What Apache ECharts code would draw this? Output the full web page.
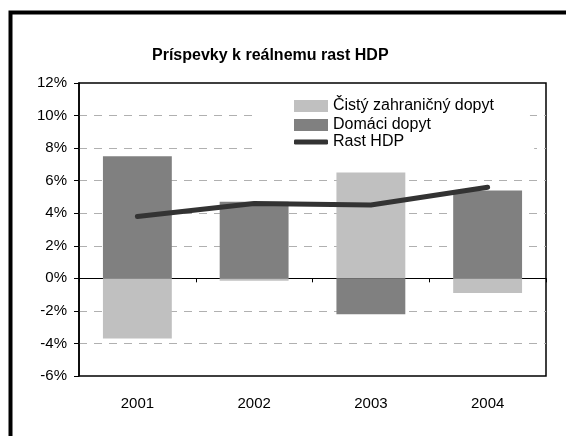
<!DOCTYPE html>
<html>
<head>
<meta charset="utf-8">
<script src="https://cdn.jsdelivr.net/npm/echarts@6/dist/echarts.min.js"></script>
<style>
  html, body { margin: 0; padding: 0; background: #fff; }
  #chart { width: 566px; height: 436px; }
</style>
</head>
<body>
<div id="chart"></div>
<script>
// Contributions to real GDP growth, 2001–2004 (stacked bars + growth line)
const years = ["2001", "2002", "2003", "2004"];
const netForeign = [-3.7, -0.15, 6.5, -0.9];   // Čistý zahraničný dopyt
const domestic = [7.5, 4.7, -2.2, 5.4];         // Domáci dopyt
const gdpGrowth = [3.8, 4.6, 4.5, 5.6];         // Rast HDP

const font = "'Liberation Sans', Arial, sans-serif";
const chart = echarts.init(document.getElementById("chart"), null, { renderer: "canvas" });

const legendText = { fontFamily: font, fontSize: 16, color: "#000", lineHeight: 16 };

chart.setOption({
  animation: false,
  backgroundColor: "#fff",
  title: {
    text: "Príspevky k reálnemu rast HDP",
    left: 147, top: 43,
    textStyle: { fontFamily: font, fontSize: 16, fontWeight: "bold", color: "#000" },
  },
  legend: [
    { // bar entries
      orient: "vertical", left: 256, top: 88,
      itemWidth: 34, itemHeight: 12, itemGap: 3,
      backgroundColor: "#fff", padding: [10, 36, 3, 38],
      textStyle: legendText,
      data: [
        { name: "Čistý zahraničný dopyt", icon: "rect" },
        { name: "Domáci dopyt", icon: "rect" },
      ],
    },
    { // line entry
      orient: "vertical", left: 256, top: 134,
      itemWidth: 34, itemHeight: 5,
      backgroundColor: "#fff", padding: [0, 130, 10, 38],
      textStyle: legendText,
      data: [{ name: "Rast HDP", icon: "roundRect" }],
    },
  ],
  grid: { left: 79, right: 20, top: 83, bottom: 60, show: true, borderColor: "#000", borderWidth: 1.5, backgroundColor: "transparent" },
  xAxis: {
    type: "category", data: years,
    position: "bottom",
    axisLine: { onZero: true, lineStyle: { color: "#000", width: 1 } },
    axisTick: { show: true, length: 4, inside: false, lineStyle: { color: "#000" } },
    axisLabel: { show: false },
  },
  yAxis: {
    type: "value", min: -6, max: 12, interval: 2,
    axisLine: { show: true, lineStyle: { color: "#000", width: 1.5 } },
    axisTick: { show: true, length: 5, inside: false, lineStyle: { color: "#000" } },
    axisLabel: { fontFamily: font, fontSize: 15, color: "#000", margin: 12, formatter: "{value}%" },
    splitLine: { show: true, showMinLine: false, showMaxLine: false,
      lineStyle: { color: "#b0b0b0", type: [8, 7], width: 1 } },
  },
  graphic: [
    // outer frame (cropped box)
    { type: "rect", z: 100, silent: true, left: 8, top: 10, shape: { width: 600, height: 500 },
      style: { fill: null, stroke: "#000", lineWidth: 4 } },
    // category labels under the plot
    ...years.map((y, i) => ({
      type: "text", z: 100, silent: true,
      x: 79 + 467 / 4 * (i + 0.5), y: 404,
      style: { text: y, font: `15px ${font}`, fill: "#000", align: "center", verticalAlign: "middle" },
    })),
  ],
  series: [
    { name: "Čistý zahraničný dopyt", type: "bar", stack: "c", data: netForeign,
      barWidth: "59%", itemStyle: { color: "#c0c0c0" } },
    { name: "Domáci dopyt", type: "bar", stack: "c", data: domestic,
      barWidth: "59%", itemStyle: { color: "#808080" } },
    { name: "Rast HDP", type: "line", data: gdpGrowth, symbol: "none", z: 5,
      lineStyle: { color: "#333", width: 5, cap: "round" }, itemStyle: { color: "#333" } },
  ],
});
</script>
</body>
</html>
